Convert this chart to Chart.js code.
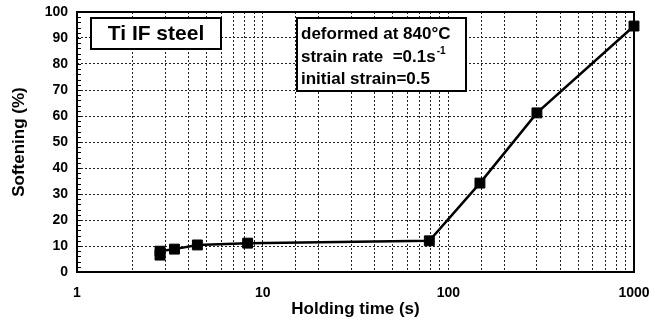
<!DOCTYPE html>
<html>
<head>
<meta charset="utf-8">
<script src="https://cdn.jsdelivr.net/npm/chart.js@4.4.1/dist/chart.umd.min.js"></script>
<style>
    html, body { margin: 0; padding: 0; background: #fff; }
    #wrap { width: 650px; height: 320px; }
</style>
</head>
<body>
<div id="wrap"><canvas id="softeningChart" width="650" height="320"></canvas></div>
<script>
// Data
const holdingTimes = [2.8, 2.8, 3.35, 4.45, 8.3, 79, 148, 300, 1000];
const softening = [6.5, 8.0, 8.8, 10.4, 11.1, 12.0, 34.2, 61.2, 94.6];
const xLabelTicks = [1, 10, 100, 1000];
const yTickLabels = [0, 10, 20, 30, 40, 50, 60, 70, 80, 90, 100];

const materialLabel = 'Ti IF steel';
const conditionLines = ['deformed at 840°C', 'strain rate  =0.1s', 'initial strain=0.5'];

const points = holdingTimes.map((t, i) => ({ x: t, y: softening[i] }));

const FONT = '"Liberation Sans", Arial, sans-serif';

// frame, minor ticks and the two text boxes
const decorations = {
    id: 'decorations',
    beforeDatasetsDraw(chart) {
        const { ctx, chartArea } = chart;
        const yScale = chart.scales.y;
        ctx.save();
        ctx.strokeStyle = '#000';
        ctx.lineWidth = 1;
        for (let v = 0; v <= 100; v += 2) {
            const py = Math.round(yScale.getPixelForValue(v)) + 0.5;
            ctx.beginPath();
            ctx.moveTo(chartArea.left, py);
            ctx.lineTo(chartArea.left + 4, py);
            ctx.stroke();
        }
        ctx.lineWidth = 2;
        ctx.strokeRect(chartArea.left, chartArea.top, chartArea.right - chartArea.left, chartArea.bottom - chartArea.top);
        ctx.restore();
    },
    afterDraw(chart) {
        const { ctx } = chart;
        ctx.save();
        ctx.lineWidth = 2;
        ctx.strokeStyle = '#000';
        ctx.fillStyle = '#fff';

        // material box
        ctx.fillRect(91, 18, 130, 31);
        ctx.strokeRect(91, 18, 130, 31);
        ctx.fillStyle = '#000';
        ctx.font = 'bold 21px ' + FONT;
        ctx.textAlign = 'center';
        ctx.textBaseline = 'middle';
        ctx.fillText(materialLabel, 156, 34);

        // conditions box
        ctx.fillStyle = '#fff';
        ctx.fillRect(297, 18, 169, 73);
        ctx.strokeRect(297, 18, 169, 73);
        ctx.fillStyle = '#000';
        ctx.font = 'bold 17px ' + FONT;
        ctx.textAlign = 'left';
        ctx.textBaseline = 'alphabetic';
        const baselines = [39, 62, 84];
        conditionLines.forEach((line, i) => {
            ctx.fillText(line, 301, baselines[i]);
        });
        const w = ctx.measureText(conditionLines[1]).width;
        ctx.font = 'bold 10px ' + FONT;
        ctx.fillText('-1', 301 + w + 1, 54);
        ctx.restore();
    }
};

new Chart(document.getElementById('softeningChart'), {
    type: 'line',
    data: {
        datasets: [{
            data: points,
            borderColor: '#000',
            backgroundColor: '#000',
            borderWidth: 2.5,
            pointStyle: 'rect',
            pointRadius: 7,
            pointBorderWidth: 1,
            tension: 0,
            clip: false
        }]
    },
    options: {
        responsive: false,
        devicePixelRatio: 1,
        animation: false,
        layout: { padding: { top: 12, right: 16, left: 0, bottom: 0 } },
        plugins: {
            legend: { display: false },
            tooltip: { enabled: false }
        },
        scales: {
            x: {
                type: 'logarithmic',
                min: 1,
                max: 1000,
                afterFit(scale) {
                    scale.height = 48;
                    scale.paddingLeft = 0;
                    scale.paddingRight = 0;
                },
                grid: { color: '#222', lineWidth: 1, drawTicks: false },
                border: { display: false, dash: [2, 2] },
                ticks: {
                    autoSkip: false,
                    maxRotation: 0,
                    padding: 13,
                    color: '#000',
                    font: { family: FONT, size: 14, weight: 'bold' },
                    callback: (value) => xLabelTicks.includes(value) ? String(value) : ''
                },
                title: {
                    display: true,
                    text: 'Holding time (s)',
                    color: '#000',
                    font: { family: FONT, size: 17, weight: 'bold' },
                    padding: { top: 0, bottom: 0 }
                }
            },
            y: {
                min: 0,
                max: 100,
                afterFit(scale) {
                    scale.width = 77;
                    scale.paddingTop = 0;
                    scale.paddingBottom = 0;
                },
                afterBuildTicks(scale) {
                    scale.ticks = yTickLabels.map(v => ({ value: v }));
                },
                grid: { color: '#222', lineWidth: 1, drawTicks: false },
                border: { display: false, dash: [2, 2] },
                ticks: {
                    padding: 9,
                    color: '#000',
                    font: { family: FONT, size: 14, weight: 'bold' }
                },
                title: {
                    display: true,
                    text: 'Softening (%)',
                    color: '#000',
                    font: { family: FONT, size: 17, weight: 'bold' },
                    padding: { top: 9, bottom: 0 }
                }
            }
        }
    },
    plugins: [decorations]
});
</script>
</body>
</html>
